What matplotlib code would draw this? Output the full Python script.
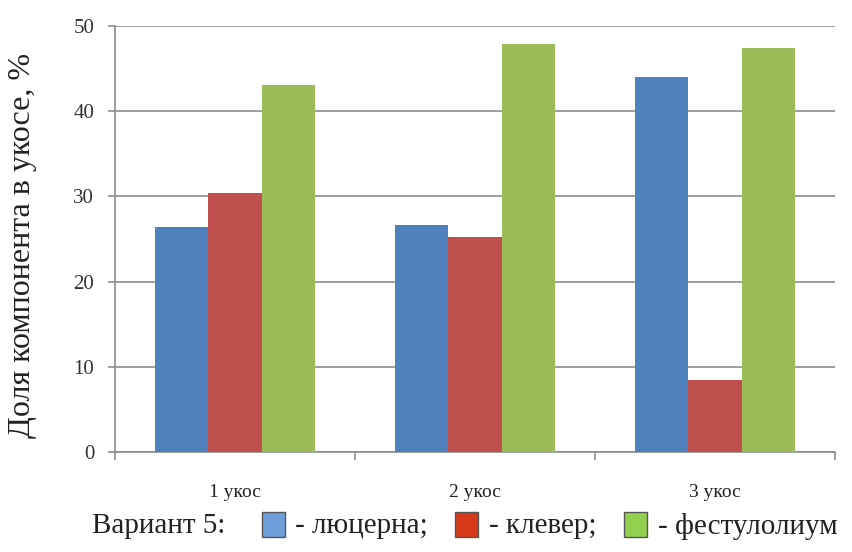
import matplotlib
matplotlib.use("Agg")
import matplotlib.pyplot as plt
from matplotlib.patches import Rectangle
import numpy as np

categories = ["1 укос", "2 укос", "3 укос"]
series_names = ["люцерна", "клевер", "фестулолиум"]
lucerne = [26.4, 26.6, 44.0]
clover = [30.4, 25.2, 8.4]
festulolium = [43.1, 47.9, 47.4]
y_ticks = [0, 10, 20, 30, 40, 50]

bar_colors = ["#4F81BD", "#C0504D", "#9BBB59"]
legend_colors = ["#6F9FDB", "#D5391A", "#92D050"]

plt.rcParams["font.family"] = ["Liberation Serif", "DejaVu Serif"]

fig = plt.figure(figsize=(8.53, 5.52), dpi=100)
ax = fig.add_axes([115 / 853, 1 - 452 / 552, 720 / 853, (452 - 26) / 552])

x = np.arange(len(categories))
width = 1 / 4.5
for i, vals in enumerate([lucerne, clover, festulolium]):
    ax.bar(x + (i - 1) * width, vals, width, color=bar_colors[i], zorder=3)

ax.set_xlim(-0.5, len(categories) - 0.5)
ax.set_ylim(0, 50)
ax.set_yticks(y_ticks)
ax.set_yticklabels([str(t) for t in y_ticks], fontsize=15, color="#333333")
ax.yaxis.grid(True, color="#8c8c8c", linewidth=1.2, zorder=0)

ax.set_xticks(x)
ax.set_xticklabels(categories, fontsize=14, color="#222222")
ax.tick_params(axis="x", length=0, pad=23)
ax.set_xticks(np.arange(-0.5, len(categories)), minor=True)
ax.tick_params(axis="x", which="minor", length=6, color="#8c8c8c", width=1.2)
ax.tick_params(axis="y", length=5, color="#8c8c8c", width=1.2, pad=10)

for side in ["top", "right"]:
    ax.spines[side].set_visible(False)
for side in ["left", "bottom"]:
    ax.spines[side].set_color("#8c8c8c")
    ax.spines[side].set_linewidth(1.2)

fig.text(23 / 853, 1 - 245 / 552, "Доля компонента в укосе, %", fontsize=23,
         rotation=90, va="center", ha="center", color="#222222")

# legend line below the chart
ty = 1 - 526 / 552
fig.text(92 / 853, ty, "Вариант 5:", fontsize=21, va="center", ha="left", color="#222222")
box_x = [262, 455, 624]
text_x = [295, 489, 658]
for bx, tx, col, name in zip(box_x, text_x, legend_colors, series_names):
    fig.patches.append(Rectangle((bx / 853, 1 - 537 / 552), 23 / 853, 25 / 552,
                                 transform=fig.transFigure, facecolor=col,
                                 edgecolor="#555555", linewidth=1.0))
    suffix = ";" if name != series_names[-1] else ""
    fig.text(tx / 853, ty, "- " + name + suffix, fontsize=21, va="center", ha="left",
             color="#222222")

fig.savefig("out.png", dpi=100, facecolor="white")
